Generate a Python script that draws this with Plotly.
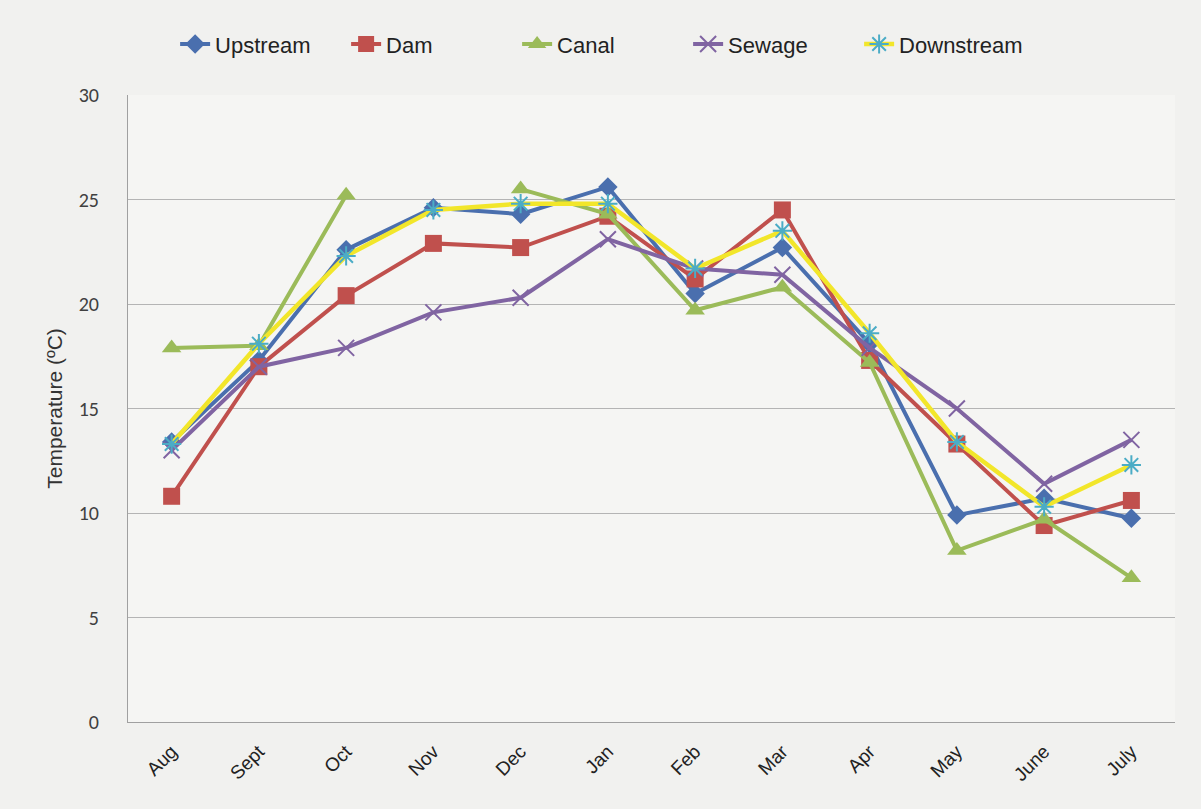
import plotly.graph_objects as go

months = ["Aug", "Sept", "Oct", "Nov", "Dec", "Jan", "Feb", "Mar", "Apr", "May", "June", "July"]
upstream = [13.4, 17.3, 22.6, 24.6, 24.3, 25.6, 20.5, 22.7, 18.1, 9.9, 10.7, 9.75]
dam = [10.8, 17.0, 20.4, 22.9, 22.7, 24.2, 21.2, 24.5, 17.3, 13.3, 9.4, 10.6]
canal = [17.9, 18.0, 25.2, None, 25.5, 24.3, 19.7, 20.8, 17.2, 8.2, 9.7, 6.9]
sewage = [13.0, 17.0, 17.9, 19.6, 20.3, 23.1, 21.7, 21.4, 17.9, 15.0, 11.4, 13.5]
downstream = [13.3, 18.1, 22.3, 24.5, 24.8, 24.8, 21.7, 23.5, 18.6, 13.4, 10.3, 12.3]

series = [
    ("Upstream", upstream, "#4a6fae", "diamond", 15, None),
    ("Dam", dam, "#c0504d", "square", 17, None),
    ("Canal", canal, "#9bbb59", "triangle-up", 17, None),
    ("Sewage", sewage, "#8064a2", "x-thin", 16, "#8064a2"),
    ("Downstream", downstream, "#f2e62a", "asterisk", 16, "#4bacc6"),
]

fig = go.Figure()
for name, vals, color, sym, size, mline in series:
    if mline is None:
        marker = dict(symbol=sym, size=size, color=color, line=dict(width=0))
    else:
        marker = dict(symbol=sym, size=size, color=mline, line=dict(width=2, color=mline))
    fig.add_trace(go.Scatter(
        x=months, y=vals, name=name, mode="lines+markers",
        line=dict(color=color, width=4.5 if name == "Downstream" else 4),
        marker=marker, connectgaps=False,
    ))

fig.update_layout(
    width=1201, height=809,
    paper_bgcolor="#f1f1ef", plot_bgcolor="#f5f5f3",
    margin=dict(l=128, r=26, t=95, b=87),
    font=dict(family="Liberation Sans, Arial", color="#333333"),
    showlegend=True,
    legend=dict(orientation="h", x=0.045, xanchor="left", y=1.081, yanchor="middle",
                font=dict(size=22, color="#222222"), bgcolor="rgba(0,0,0,0)",
                entrywidth=126, entrywidthmode="pixels", tracegroupgap=0),
    xaxis=dict(type="category", tickangle=-45, tickfont=dict(size=19, color="#222222"),
               showgrid=False, showline=True, linecolor="#a0a0a0", linewidth=1,
               ticks="", range=[-0.5, 11.5], ticklabelstandoff=10),
    yaxis=dict(range=[0, 30], dtick=5,
               tickfont=dict(size=20, family="Carlito, Open Sans, Liberation Sans", color="#404040"),
               showgrid=True, gridcolor="#b4b4b4", gridwidth=1,
               showline=True, linecolor="#a0a0a0", linewidth=1, zeroline=False,
               ticks="", ticklen=0, ticklabelstandoff=24,
               title=dict(text="Temperature (ºC)", font=dict(size=21, color="#333333"), standoff=10)),
)

fig.write_html(
    "out.html",
    config={"displayModeBar": False},
    post_script="document.body.style.margin='0';document.body.style.background='#f1f1ef';",
)
